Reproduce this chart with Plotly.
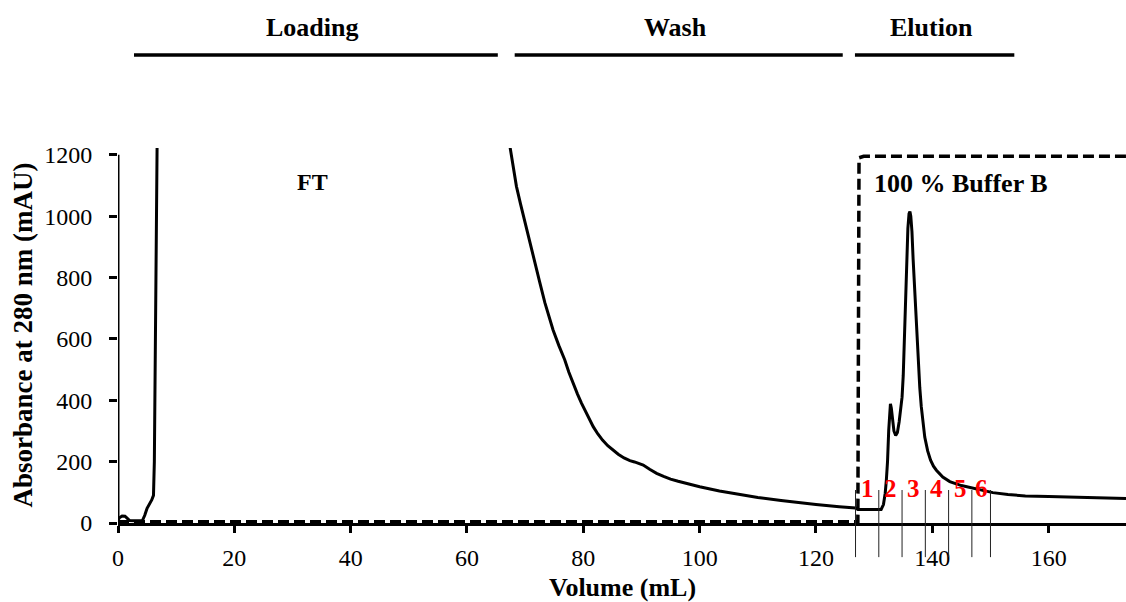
import plotly.graph_objects as go

# ---------------- data ----------------
# UV absorbance at 280 nm (mAU) vs volume (mL)
uv_volume = [0, 0.3, 0.7, 1.2, 1.6, 2.0, 3.0, 4.2, 4.6, 5.0, 5.8, 6.1, 6.25, 6.4, 6.55, 6.7, 6.8,
             65.9, 67.4, 68.0, 68.5, 69.2, 69.9, 70.7, 71.6, 72.5, 73.4, 74.1, 74.8, 75.8,
             76.8, 77.5, 78.2, 79.0, 79.7, 80.7, 81.7, 82.5, 83.3, 84.2, 85.1, 86.0, 87.0,
             88.0, 88.8, 89.5, 90.3, 91.4, 92.6, 93.8, 95.0, 96.3, 97.7, 100.0, 103.4,
             107.0, 110.0, 114.0, 117.0, 120.0, 124.0, 126.8, 127.2, 131.2, 131.6, 131.9,
             132.1, 132.3, 132.5, 132.65, 132.8, 132.95, 133.1, 133.4, 133.7, 134.0, 134.3,
             134.6, 134.8, 135.0, 135.2, 135.4, 135.6, 135.8, 136.0, 136.15, 136.3, 136.5,
             136.7, 136.9, 137.1, 137.35, 137.6, 137.85, 138.1, 138.4, 138.7, 139.2, 139.7,
             140.2, 140.7, 141.8, 143.0, 145.0, 147.0, 150.4, 153.0, 156.0, 160.0, 165.0,
             171.0, 173.3]
uv_abs = [10, 18, 23, 22, 15, 8, 7, 8, 25, 48, 75, 90, 200, 500, 900, 1300, 1400,
          1400, 1220, 1150, 1097, 1040, 988, 925, 858, 785, 717, 670, 629, 578,
          532, 492, 456, 420, 390, 350, 314, 290, 270, 252, 238, 224, 212,
          203, 199, 195, 189, 175, 162, 152, 143, 136, 129, 118, 104,
          92, 83, 73, 66, 60, 53, 49, 44, 44, 60, 97,
          140, 200, 300, 360, 388, 375, 340, 300, 285, 295, 330,
          380, 410, 480, 600, 740, 860, 960, 1008, 1015, 1000, 950,
          860, 780, 700, 600, 510, 440, 380, 320, 280, 235, 205,
          185, 172, 150, 135, 122, 113, 99, 93, 88, 86, 84,
          81, 80]

# Buffer B step (100 % Buffer B plotted at the top of the scale)
grad_volume = [0, 127.2, 127.4, 128.2, 173.3]
grad_value = [4, 4, 1190, 1195, 1195]

# Fraction collection boundaries (mL) and labels
fraction_edges = [126.8, 130.8, 134.8, 138.8, 142.8, 146.8, 150.0]
fraction_labels = ["1", "2", "3", "4", "5", "6"]

# Process phases (label, start mL, end mL)
phase_labels = ["Loading", "Wash", "Elution"]
phase_start = [2.75, 68.2, 126.7]
phase_end = [65.3, 124.6, 154.1]

x_ticks = [0, 20, 40, 60, 80, 100, 120, 140, 160]
y_ticks = [0, 200, 400, 600, 800, 1000, 1200]

FONT = "Liberation Serif, Times New Roman, serif"

fig = go.Figure()

fig.add_trace(go.Scatter(
    x=grad_volume, y=grad_value, mode="lines",
    line=dict(color="black", width=3.5, dash="11px,5px"),
    hoverinfo="skip", showlegend=False))

fig.add_trace(go.Scatter(
    x=uv_volume, y=uv_abs, mode="lines",
    line=dict(color="black", width=3),
    showlegend=False))

shapes = []
# y axis line from 0 to 1200
shapes.append(dict(type="line", xref="x", yref="y", x0=0, x1=0, y0=0, y1=1200,
                   line=dict(color="black", width=3), layer="above"))
# fraction markers
for e in fraction_edges:
    shapes.append(dict(type="line", xref="x", yref="paper", x0=e, x1=e,
                       y0=-0.091, y1=0.088, line=dict(color="#222", width=1),
                       layer="above"))
# phase bars
for s, e in zip(phase_start, phase_end):
    shapes.append(dict(type="line", xref="x", yref="paper", x0=s, x1=e,
                       y0=1.248, y1=1.248, line=dict(color="black", width=3.5)))

annotations = []
for lab, s, e in zip(phase_labels, phase_start, phase_end):
    annotations.append(dict(text="<b>%s</b>" % lab, x=(s + e) / 2 - 0.6, xref="x",
                            y=1.32, yref="paper", xanchor="center", yanchor="middle",
                            showarrow=False,
                            font=dict(family=FONT, size=26, color="black")))
for i, lab in enumerate(fraction_labels):
    mid = (fraction_edges[i] + fraction_edges[i + 1]) / 2
    annotations.append(dict(text="<b>%s</b>" % lab, x=mid, xref="x", y=111, yref="y",
                            xanchor="center", yanchor="middle", showarrow=False,
                            font=dict(family=FONT, size=25, color="#ff0000")))
annotations.append(dict(text="<b>FT</b>", x=33.4, y=1111, xref="x", yref="y",
                        xanchor="center", yanchor="middle",
                        showarrow=False, font=dict(family=FONT, size=24, color="black")))
annotations.append(dict(text="<b>100 % Buffer B</b>", x=129.7, y=1106, xref="x", yref="y",
                        xanchor="left", yanchor="middle", showarrow=False,
                        font=dict(family=FONT, size=26, color="black")))
annotations.append(dict(text="<b>Absorbance at 280 nm (mAU)</b>", textangle=-90,
                        x=-0.0952, xref="paper", y=0.5, yref="paper",
                        xanchor="center", yanchor="middle",
                        showarrow=False, font=dict(family=FONT, size=27, color="black")))
annotations.append(dict(text="<b>Volume (mL)</b>", x=0.5, xref="paper", y=-0.173,
                        yref="paper", xanchor="center", yanchor="middle", showarrow=False,
                        font=dict(family=FONT, size=26, color="black")))

fig.update_layout(
    width=1126, height=602,
    margin=dict(l=118, r=0, t=148, b=79),
    plot_bgcolor="white", paper_bgcolor="white",
    font=dict(family=FONT, size=24, color="black"),
    shapes=shapes, annotations=annotations,
    xaxis=dict(range=[0, 173.3], tickvals=x_ticks, showline=True, linecolor="black",
               linewidth=3, ticks="outside", ticklen=7, tickwidth=3, tickcolor="black",
               showgrid=False, zeroline=False, ticklabelstandoff=4,
               tickfont=dict(family=FONT, size=24)),
    yaxis=dict(range=[0, 1222], tickvals=y_ticks, showline=False,
               ticks="outside", ticklen=8, tickwidth=3, tickcolor="black",
               showgrid=False, zeroline=False, ticklabelstandoff=12,
               tickfont=dict(family=FONT, size=24)),
)

fig.write_html("out.html")
